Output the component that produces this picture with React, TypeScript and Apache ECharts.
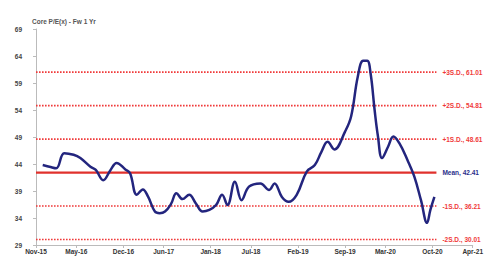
import React, { useEffect, useRef } from "react";
import * as echarts from "echarts";

// x positions are months elapsed since Nov-15
const monthsFromNov15 = [
  1, 2, 3, 4.2, 5.6, 6.6, 8.1, 8.9, 10, 11.1, 12, 13.3, 14, 15, 15.9, 16.7, 17.7, 18.4, 19.2, 20.1,
  20.9, 21.8, 22.8, 23.8, 24.8, 25.8, 26.8, 27.7, 28.5, 29.6, 30.6, 31.7, 33.4, 34.7, 35.5, 36.6,
  37.6, 38.8, 40.3, 41.5, 42.5, 43.4, 44.4, 46, 46.9, 47.9, 48.7, 49.3, 49.8, 50.4, 50.9, 51.5,
  52.4, 53.2, 54.1, 55.3, 56.3, 57.3, 58.2, 58.7, 59.3,
];
const peValues = [
  43.8, 43.5, 43.2, 46.0, 45.7, 45.1, 43.5, 42.9, 41.0, 42.9, 44.2, 43.0, 42.3, 38.3, 39.3, 37.9,
  35.2, 34.9, 35.2, 36.6, 38.6, 37.5, 38.3, 36.7, 35.2, 35.5, 36.4, 38.3, 36.4, 40.7, 37.3, 39.8,
  40.4, 39.2, 40.4, 37.9, 37.0, 38.3, 42.6, 43.8, 46.3, 48.1, 46.7, 50.0, 52.8, 60.2, 63.1, 63.1,
  60.8, 54.0, 49.1, 45.1, 47.2, 49.1, 47.8, 44.7, 41.7, 37.3, 33.1, 35.5, 37.9,
];

const meanValue = 42.41;
const bandNames = ["+3S.D.", "+2S.D.", "+1S.D.", "-1S.D.", "-2S.D."];
const bandValues = [61.01, 54.81, 48.61, 36.21, 30.01];

const yTicks = [29, 34, 39, 44, 49, 54, 59, 64, 69];
const xTickMonths = [0, 6, 13, 19, 26, 32, 39, 46, 52, 59, 65];
const xTickLabels = [
  "Nov-15", "May-16", "Dec-16", "Jun-17", "Jan-18", "Jul-18", "Feb-19", "Sep-19", "Mar-20", "Oct-20", "Apr-21",
];
const refLineEnd = 59.6;

export default function App() {
  const ref = useRef<HTMLDivElement>(null);
  useEffect(() => {
    if (!ref.current) return;
    const chart = echarts.init(ref.current, null, { renderer: "svg" });
    const font = "Liberation Sans, Arial, sans-serif";
    const labelStyle = { fontSize: 6.5, fontWeight: "bold" as const, fontFamily: font };
    const bandSeries = bandValues.map((v, k) => ({
      type: "line",
      data: [
        [0, v],
        [refLineEnd, v],
      ],
      showSymbol: false,
      symbol: "none",
      silent: true,
      lineStyle: { color: "#f03a3a", width: 1.6, type: [1.6, 1.4] },
      endLabel: {
        show: true,
        formatter: () => `${bandNames[k]}, ${v.toFixed(2)}`,
        color: "#f03a3a",
        distance: 6,
        ...labelStyle,
      },
      z: 1,
    }));
    chart.setOption({
      animation: false,
      title: {
        text: "Core P/E(x) - Fw 1 Yr",
        left: 27,
        top: 13,
        textStyle: { fontSize: 6.5, fontWeight: "bold", color: "#555", fontFamily: font },
      },
      grid: { left: 36, right: 9, top: 29, bottom: 11, containLabel: false },
      xAxis: {
        type: "value",
        min: 0,
        max: 65,
        axisLine: { show: true, lineStyle: { color: "#bbb", width: 1 } },
        splitLine: { show: false },
        axisTick: { show: true, length: 3, lineStyle: { color: "#bbb" }, customValues: xTickMonths },
        axisLabel: {
          customValues: xTickMonths,
          margin: 3,
          color: "#333",
          ...labelStyle,
          formatter: (val: number) => {
            const idx = xTickMonths.indexOf(Math.round(val));
            return idx >= 0 ? xTickLabels[idx] : "";
          },
        },
      },
      yAxis: {
        type: "value",
        min: 29,
        max: 69,
        axisLine: { show: true, lineStyle: { color: "#bbb", width: 1 } },
        splitLine: { show: false },
        axisTick: { show: true, length: 3, lineStyle: { color: "#bbb" }, customValues: yTicks },
        axisLabel: { customValues: yTicks, margin: 14, color: "#444", ...labelStyle },
      },
      series: [
        ...bandSeries,
        {
          type: "line",
          data: [
            [0, meanValue],
            [refLineEnd, meanValue],
          ],
          showSymbol: false,
          symbol: "none",
          silent: true,
          lineStyle: { color: "#e0312c", width: 2.2 },
          endLabel: {
            show: true,
            formatter: () => `Mean, ${meanValue.toFixed(2)}`,
            color: "#2a2f8a",
            distance: 6,
            ...labelStyle,
          },
          z: 2,
        },
        {
          type: "line",
          data: monthsFromNov15.map((m, i) => [m, peValues[i]]),
          smooth: 0.4,
          showSymbol: false,
          symbol: "none",
          lineStyle: { color: "#23257e", width: 2.5 },
          z: 3,
        },
      ],
    });
    return () => chart.dispose();
  }, []);
  return (
    <div
      ref={ref}
      style={{ position: "absolute", left: 0, top: 0, width: 486, height: 256 }}
    />
  );
}
